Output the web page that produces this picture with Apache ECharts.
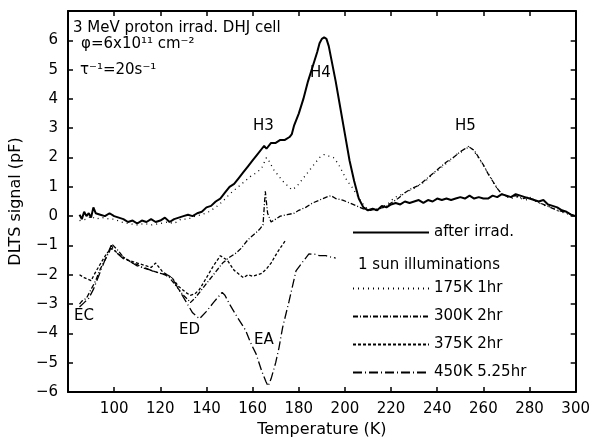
<!DOCTYPE html>
<html>
<head>
<meta charset="utf-8">
<script src="https://cdn.jsdelivr.net/npm/echarts@6/dist/echarts.min.js"></script>
<style>
  html, body { margin: 0; padding: 0; background: #fff; }
  #chart { width: 593px; height: 445px; }
</style>
</head>
<body>
<div id="chart"></div>
<script>
const seriesNames = ['after irrad.', '175K 1hr', '300K 2hr', '375K 2hr', '450K 5.25hr'];

// [temperature K, DLTS signal pF]
const afterIrrad = [
  [85, 0.05], [86, -0.1], [87, 0.15], [88, 0.0], [89, 0.1], [90, -0.05], [91, 0.3], [92, 0.1],
  [94, 0.05], [96, 0.0], [98, 0.1], [100, 0.0], [102, -0.05], [104, -0.1], [106, -0.2], [108, -0.15],
  [110, -0.25], [112, -0.15], [114, -0.2], [116, -0.1], [118, -0.2], [120, -0.15], [122, -0.05],
  [124, -0.2], [126, -0.1], [128, -0.05], [130, 0.0], [132, 0.05], [134, 0.0], [136, 0.1], [138, 0.15],
  [140, 0.3], [142, 0.35], [144, 0.5], [146, 0.6], [148, 0.8], [150, 1.0], [152, 1.1], [154, 1.3],
  [156, 1.5], [158, 1.7], [160, 1.9], [162, 2.1], [164, 2.3], [165, 2.4], [166, 2.3], [168, 2.5],
  [170, 2.5], [172, 2.6], [174, 2.6], [176, 2.7], [177, 2.8], [178, 3.1], [180, 3.5], [182, 4.0],
  [184, 4.6], [186, 5.1], [188, 5.6], [189, 5.9], [190, 6.05], [191, 6.1], [192, 6.05], [193, 5.8],
  [194, 5.4], [196, 4.6], [198, 3.7], [200, 2.8], [202, 1.9], [204, 1.2], [206, 0.6], [208, 0.3],
  [210, 0.2], [212, 0.25], [214, 0.2], [216, 0.35], [218, 0.3], [220, 0.4], [222, 0.45], [224, 0.4],
  [226, 0.5], [228, 0.45], [230, 0.5], [232, 0.55], [234, 0.45], [236, 0.55], [238, 0.5], [240, 0.6],
  [242, 0.55], [244, 0.6], [246, 0.55], [248, 0.6], [250, 0.65], [252, 0.6], [254, 0.7], [256, 0.6],
  [258, 0.65], [260, 0.6], [262, 0.6], [264, 0.7], [266, 0.65], [268, 0.75], [270, 0.7], [272, 0.65],
  [274, 0.75], [276, 0.7], [278, 0.65], [280, 0.6], [282, 0.55], [284, 0.5], [286, 0.55], [288, 0.4],
  [290, 0.35], [292, 0.3], [294, 0.2], [296, 0.15], [298, 0.05], [300, 0.0]
];

const illum175 = [
  [85, -0.15], [88, -0.1], [90, 0.0], [92, -0.1], [95, -0.05], [98, -0.1], [100, -0.1], [103, -0.2],
  [106, -0.25], [110, -0.3], [113, -0.25], [116, -0.3], [120, -0.25], [123, -0.2], [126, -0.25],
  [129, -0.1], [132, -0.1], [135, 0.0], [138, 0.05], [141, 0.15], [144, 0.3], [147, 0.5], [150, 0.75],
  [153, 0.95], [156, 1.15], [159, 1.35], [162, 1.5], [164, 1.65], [166, 2.0], [167, 1.9], [169, 1.6],
  [171, 1.4], [173, 1.2], [175, 1.05], [177, 0.9], [179, 1.0], [181, 1.2], [183, 1.4], [185, 1.6],
  [187, 1.8], [189, 2.0], [191, 2.1], [193, 2.05], [195, 2.0], [197, 1.8], [199, 1.5], [201, 1.2],
  [203, 1.0], [205, 0.75], [207, 0.5], [209, 0.3], [211, 0.2], [213, 0.2], [215, 0.25], [217, 0.35],
  [219, 0.45], [221, 0.6], [223, 0.7], [225, 0.75], [227, 0.85], [229, 0.9], [231, 1.0], [233, 1.1],
  [235, 1.2], [237, 1.35], [239, 1.5], [241, 1.6], [243, 1.75], [245, 1.85], [247, 2.0], [249, 2.15],
  [251, 2.2], [253, 2.4], [255, 2.3], [257, 2.1], [259, 1.85], [261, 1.6], [263, 1.35], [265, 1.05],
  [267, 0.85], [269, 0.7], [272, 0.6], [275, 0.65], [278, 0.55], [281, 0.6], [284, 0.45], [287, 0.35],
  [290, 0.3], [293, 0.15], [296, 0.1], [300, -0.05]
];

const illum300 = [
  [85, -3.0], [86, -2.9], [88, -2.8], [90, -2.5], [92, -2.2], [94, -1.8], [96, -1.5], [98, -1.2],
  [99, -0.95], [102, -1.2], [104, -1.4], [106, -1.5], [108, -1.6], [110, -1.65], [112, -1.75],
  [114, -1.8], [116, -1.85], [118, -1.9], [120, -1.95], [122, -2.0], [124, -2.1], [126, -2.3],
  [128, -2.5], [130, -2.7], [132, -2.85], [133, -2.95], [135, -2.8], [138, -2.5], [141, -2.2],
  [144, -1.9], [147, -1.6], [150, -1.4], [153, -1.25], [155, -1.1], [158, -0.8], [161, -0.6],
  [163, -0.45], [164.5, -0.3], [165.5, 0.85], [166.5, 0.1], [168, -0.2], [170, -0.1], [172, 0.0],
  [175, 0.05], [178, 0.1], [180, 0.2], [183, 0.3], [186, 0.45], [189, 0.55], [192, 0.65], [194, 0.7],
  [196, 0.6], [199, 0.55], [202, 0.45], [205, 0.35], [208, 0.25], [211, 0.2], [214, 0.25], [217, 0.3],
  [220, 0.45], [223, 0.6], [226, 0.8], [229, 0.95], [232, 1.05], [235, 1.25], [238, 1.45], [241, 1.65],
  [244, 1.85], [247, 2.0], [250, 2.2], [252, 2.3], [254, 2.35], [256, 2.25], [258, 2.0], [260, 1.75],
  [262, 1.45], [264, 1.2], [266, 0.95], [268, 0.75], [271, 0.65], [274, 0.7], [277, 0.6], [280, 0.65],
  [283, 0.5], [286, 0.4], [289, 0.3], [292, 0.2], [295, 0.15], [298, 0.05], [300, 0.0]
];

const illum375 = [
  [85, -2.0], [87, -2.1], [90, -2.2], [92, -1.9], [95, -1.5], [97, -1.25], [99, -1.1], [102, -1.3],
  [106, -1.5], [110, -1.6], [114, -1.7], [116, -1.75], [118, -1.6], [120, -1.8], [121, -1.9],
  [125, -2.1], [128, -2.4], [131, -2.6], [133, -2.7], [135, -2.65], [137, -2.5], [140, -2.1],
  [143, -1.7], [146, -1.35], [149, -1.5], [152, -1.85], [156, -2.1], [158, -2.0], [160, -2.05],
  [164, -1.95], [166, -1.8], [168, -1.6], [171, -1.2], [174.5, -0.8]
];

const illum450 = [
  [85, -3.1], [87, -2.95], [89, -2.8], [91, -2.5], [93.5, -2.0], [96, -1.5], [98.7, -1.0], [101, -1.25],
  [104, -1.45], [107, -1.55], [110, -1.7], [113, -1.75], [116.5, -1.87], [120, -1.95], [123, -2.0],
  [125, -2.1], [128, -2.5], [131, -2.9], [134, -3.3], [137, -3.5], [140, -3.25], [143, -2.95],
  [146.8, -2.6], [148, -2.7], [150, -3.0], [153, -3.4], [157, -3.9], [159, -4.3], [161.5, -4.7],
  [164, -5.3], [165.8, -5.65], [166.7, -5.8], [168, -5.55], [170, -5.0], [171.4, -4.5], [173, -3.8],
  [175.8, -2.9], [178.8, -1.87], [182, -1.53], [184.4, -1.29], [187, -1.3], [189, -1.35],
  [191.8, -1.35], [194, -1.4], [196, -1.43]
];

const seriesData = [afterIrrad, illum175, illum300, illum375, illum450];
const seriesDash = ['solid', [1, 4], [5, 2, 1, 2], [3, 2], [9, 3, 1, 3]];
const seriesWidth = [2, 1.3, 1.3, 1.3, 1.3];

const font = 'DejaVu Sans';
const chart = echarts.init(document.getElementById('chart'));

const axisCommon = {
  axisLine: { show: true, onZero: false, lineStyle: { color: '#000', width: 2 } },
  axisTick: { show: true, inside: true, length: 5, lineStyle: { color: '#000', width: 1.5 } },
  splitLine: { show: false }
};

const legendCommon = {
  orient: 'vertical', left: 352, padding: 0,
  itemWidth: 76, itemHeight: 14,
  itemStyle: { color: 'rgba(0,0,0,0)', borderWidth: 0 },
  textStyle: { fontFamily: font, fontSize: 15, color: '#000' }
};

chart.setOption({
  animation: false,
  backgroundColor: '#fff',
  grid: { left: 68, right: 16, top: 11, bottom: 53 },
  xAxis: [
    Object.assign({
      type: 'value', min: 80, max: 300, interval: 20, position: 'bottom',
      name: 'Temperature (K)', nameLocation: 'middle', nameGap: 30,
      nameTextStyle: { fontFamily: font, fontSize: 16, color: '#000' },
      axisLabel: { showMinLabel: false, margin: 10, fontFamily: font, fontSize: 15, color: '#000' }
    }, axisCommon),
    Object.assign({
      type: 'value', min: 80, max: 300, interval: 20, position: 'top',
      axisLabel: { show: false }
    }, axisCommon)
  ],
  yAxis: [
    Object.assign({
      type: 'value', min: -6, max: 7, interval: 1, position: 'left',
      name: 'DLTS signal (pF)', nameLocation: 'middle', nameGap: 44, nameRotate: 90,
      nameTextStyle: { fontFamily: font, fontSize: 16, color: '#000' },
      axisLabel: {
        margin: 10, fontFamily: font, fontSize: 15, color: '#000',
        formatter: v => (v === 7 ? '' : (v < 0 ? '\u2212' + (-v) : String(v)))
      }
    }, axisCommon),
    Object.assign({
      type: 'value', min: -6, max: 7, interval: 1, position: 'right',
      axisLabel: { show: false }
    }, axisCommon)
  ],
  legend: [
    Object.assign({ data: [seriesNames[0]], top: 225 }, legendCommon),
    Object.assign({ data: seriesNames.slice(1), top: 281, itemGap: 13 }, legendCommon)
  ],
  graphic: [
    { type: 'text', left: 73, top: 21, style: { text: '3 MeV proton irrad. DHJ cell', font: '15px "DejaVu Sans"', fill: '#000' } },
    { type: 'text', left: 81, top: 37, style: { text: '\u03c6=6x10\u00b9\u00b9 cm\u207b\u00b2', font: '15px "DejaVu Sans"', fill: '#000' } },
    { type: 'text', left: 80, top: 63, style: { text: '\u03c4\u207b\u00b9=20s\u207b\u00b9', font: '15px "DejaVu Sans"', fill: '#000' } },
    { type: 'text', left: 358, top: 258, style: { text: '1 sun illuminations', font: '15px "DejaVu Sans"', fill: '#000' } },
    { type: 'text', left: 253, top: 119, style: { text: 'H3', font: '15px "DejaVu Sans"', fill: '#000' } },
    { type: 'text', left: 310, top: 66, style: { text: 'H4', font: '15px "DejaVu Sans"', fill: '#000' } },
    { type: 'text', left: 455, top: 119, style: { text: 'H5', font: '15px "DejaVu Sans"', fill: '#000' } },
    { type: 'text', left: 74, top: 309, style: { text: 'EC', font: '15px "DejaVu Sans"', fill: '#000' } },
    { type: 'text', left: 179, top: 323, style: { text: 'ED', font: '15px "DejaVu Sans"', fill: '#000' } },
    { type: 'text', left: 254, top: 333, style: { text: 'EA', font: '15px "DejaVu Sans"', fill: '#000' } }
  ],
  series: seriesNames.map((name, i) => ({
    name: name,
    type: 'line',
    xAxisIndex: 0,
    yAxisIndex: 0,
    symbol: 'none',
    color: '#000',
    lineStyle: { color: '#000', width: seriesWidth[i], type: seriesDash[i] },
    data: seriesData[i]
  }))
});

window.addEventListener('resize', function () {
  chart.resize();
});
</script>
</body>
</html>
